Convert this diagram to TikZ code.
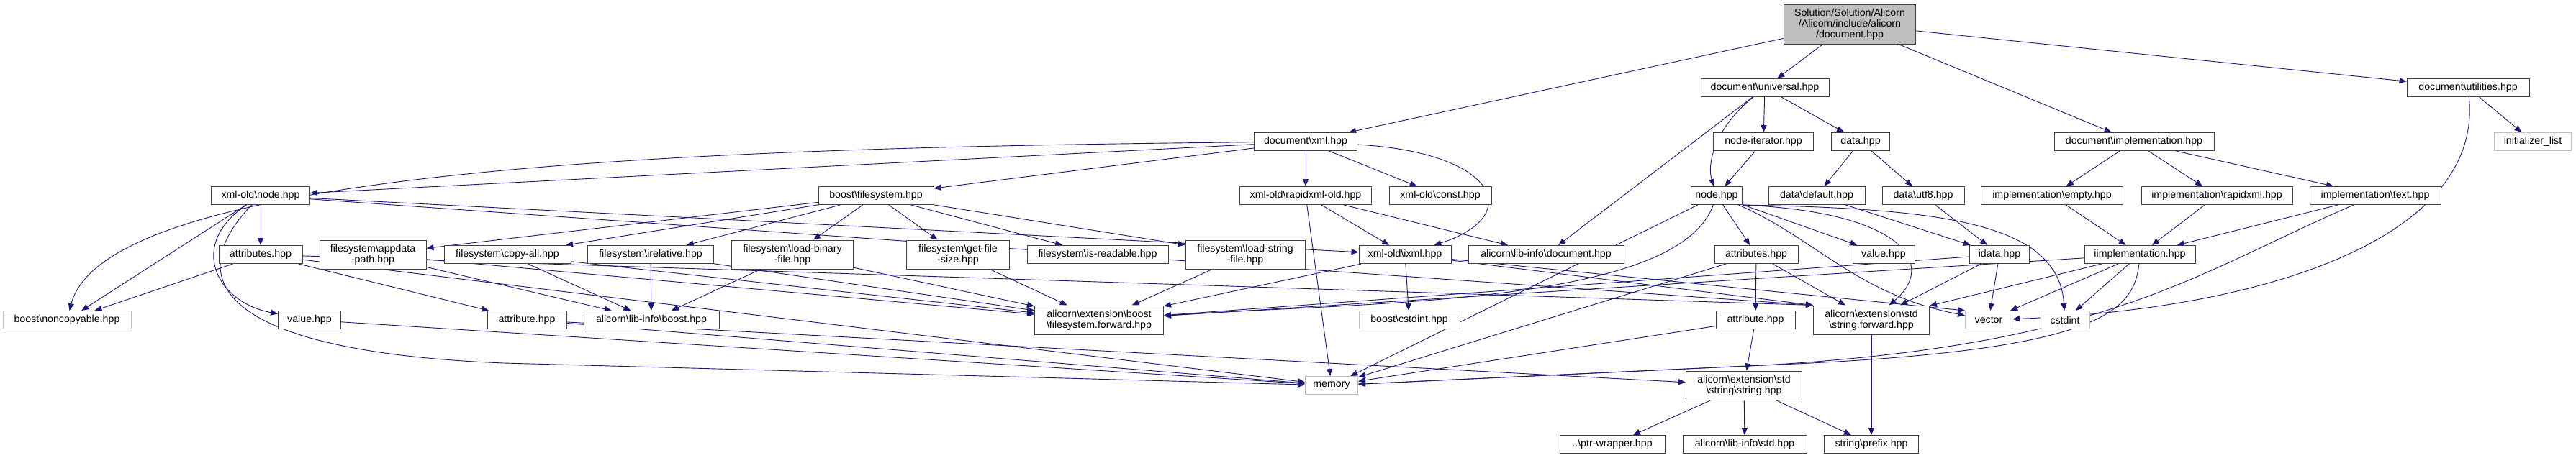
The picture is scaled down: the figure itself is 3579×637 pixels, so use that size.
\documentclass[tikz,border=0pt]{standalone}
\usepackage{fontspec}
\setmainfont{Liberation Sans}
\usetikzlibrary{arrows.meta}
\definecolor{edgeblue}{HTML}{191970}
\newcommand\bsl{\textbackslash}
\newcommand\hdrfont{\fontsize{14.2}{15}\selectfont}
\pgfdeclarelayer{edges}
\pgfsetlayers{edges,main}

\begin{document}
\begin{tikzpicture}[x=1pt,y=-1pt,
    hdr/.style={draw=black!75,fill=white,line width=1pt,inner sep=0pt,minimum height=25pt,font=\hdrfont,align=center},
    sys/.style={hdr,draw=black!25},
    two/.style={minimum height=40pt},
    dep/.style={->,draw=edgeblue,color=edgeblue,line width=0.9pt},
    >={Triangle[length=10pt,width=8pt]}]
  \useasboundingbox (0,0) rectangle (3579,637);
  \node[hdr,fill=black!25,minimum width=183pt,minimum height=55pt] (root) at (2570,33.5) {Solution/Solution/Alicorn\\/Alicorn/include/alicorn\\/document.hpp};

  \node[hdr,minimum width=178pt] (uni) at (2452,122) {document\bsl universal.hpp};
  \node[hdr,minimum width=170pt] (util) at (3429,122) {document\bsl utilities.hpp};

  \node[hdr,minimum width=143pt] (xml) at (1814,197) {document\bsl xml.hpp};
  \node[hdr,minimum width=139pt] (nodeit) at (2450,197) {node-iterator.hpp};
  \node[hdr,minimum width=81pt] (data) at (2585,197) {data.hpp};
  \node[hdr,minimum width=222pt] (impl) at (2965,197) {document\bsl implementation.hpp};
  \node[sys,minimum width=107pt] (initl) at (3519,197) {initializer\_list};

  \node[hdr,minimum width=137pt] (xonode) at (362,272) {xml-old\bsl node.hpp};
  \node[hdr,minimum width=160pt] (bfs) at (1217,272) {boost\bsl filesystem.hpp};
  \node[hdr,minimum width=183pt] (rxold) at (1814,272) {xml-old\bsl rapidxml-old.hpp};
  \node[hdr,minimum width=142pt] (xconst) at (2001,272) {xml-old\bsl const.hpp};
  \node[hdr,minimum width=71pt] (node) at (2385,272) {node.hpp};
  \node[hdr,minimum width=134pt] (ddef) at (2524,272) {data\bsl default.hpp};
  \node[hdr,minimum width=114pt] (dutf) at (2672,272) {data\bsl utf8.hpp};
  \node[hdr,minimum width=197pt] (iempty) at (2851,272) {implementation\bsl empty.hpp};
  \node[hdr,minimum width=210pt] (irapid) at (3080,272) {implementation\bsl rapidxml.hpp};
  \node[hdr,minimum width=182pt] (itext) at (3300,272) {implementation\bsl text.hpp};

  \node[hdr,minimum width=116pt] (attrsL) at (362,354) {attributes.hpp};
  \node[hdr,two,minimum width=148pt] (appdata) at (518,354) {filesystem\bsl appdata\\-path.hpp};
  \node[hdr,minimum width=176pt] (copyall) at (705,354) {filesystem\bsl copy-all.hpp};
  \node[hdr,minimum width=175pt] (relative) at (904,354) {filesystem\bsl irelative.hpp};
  \node[hdr,two,minimum width=169pt] (loadbin) at (1101,354) {filesystem\bsl load-binary\\-file.hpp};
  \node[hdr,two,minimum width=143pt] (getsize) at (1331,354) {filesystem\bsl get-file\\-size.hpp};
  \node[hdr,minimum width=196pt] (isread) at (1525,354) {filesystem\bsl is-readable.hpp};
  \node[hdr,two,minimum width=166pt] (loadstr) at (1730,354) {filesystem\bsl load-string\\-file.hpp};
  \node[hdr,minimum width=128pt] (ixml) at (1952,354) {xml-old\bsl ixml.hpp};
  \node[hdr,minimum width=216pt] (lidoc) at (2148,354) {alicorn\bsl lib-info\bsl document.hpp};
  \node[hdr,minimum width=116pt] (attrsR) at (2440,354) {attributes.hpp};
  \node[hdr,minimum width=86pt] (valueR) at (2617,354) {value.hpp};
  \node[hdr,minimum width=83pt] (idata) at (2778,354) {idata.hpp};
  \node[hdr,minimum width=154pt] (iimpl) at (2973,354) {iimplementation.hpp};

  \node[sys,minimum width=178pt] (noncopy) at (93,445) {boost\bsl noncopyable.hpp};
  \node[hdr,minimum width=87pt] (valueL) at (430,445) {value.hpp};
  \node[hdr,minimum width=110pt] (attrL) at (732,445) {attribute.hpp};
  \node[hdr,minimum width=188pt] (liboost) at (905,445) {alicorn\bsl lib-info\bsl boost.hpp};
  \node[hdr,two,minimum width=179pt] (fsfwd) at (1527,445) {alicorn\bsl extension\bsl boost\\\bsl filesystem.forward.hpp};
  \node[sys,minimum width=140pt] (bcstdint) at (1958,445) {boost\bsl cstdint.hpp};
  \node[hdr,minimum width=110pt] (attrR) at (2439,445) {attribute.hpp};
  \node[hdr,two,minimum width=161pt] (strfwd) at (2600,445) {alicorn\bsl extension\bsl std\\\bsl string.forward.hpp};
  \node[sys,minimum width=65pt] (vector) at (2763,445) {vector};
  \node[sys,minimum width=68pt] (cstdint) at (2869,445) {cstdint};

  \node[sys,minimum width=73pt] (memory) at (1850,536) {memory};
  \node[hdr,two,minimum width=161pt] (strstr) at (2423,536) {alicorn\bsl extension\bsl std\\\bsl string\bsl string.hpp};

  \node[hdr,minimum width=146pt] (ptrw) at (2240,618) {..\bsl ptr-wrapper.hpp};
  \node[hdr,minimum width=172pt] (listd) at (2424,618) {alicorn\bsl lib-info\bsl std.hpp};
  \node[hdr,minimum width=131pt] (prefix) at (2600,618) {string\bsl prefix.hpp};

  \begin{pgfonlayer}{edges}
  \draw[dep] (root) -- (xml);
  \draw[dep] (root) -- (uni);
  \draw[dep] (root) -- (impl);
  \draw[dep] (root) -- (util);
  \draw[dep] (uni) -- (nodeit);
  \draw[dep] (uni) -- (data);
  \draw[dep] (uni) .. controls (2380,180) and (2372,230) .. (node);
  \draw[dep] (uni) -- (lidoc);
  \draw[dep] (util) -- (initl);
  \draw[dep] (util) .. controls (3450,330) and (3150,430) .. (vector);
  \draw[dep] (xml) -- (xonode);
  \draw[dep] (xml) -- (bfs);
  \draw[dep] (xml) -- (rxold);
  \draw[dep] (xml) -- (xconst);
  \draw[dep] (xml) .. controls (2080,212) and (2120,300) .. (ixml);
  \draw[dep] (xml) .. controls (1000,205) and (150,230) .. (noncopy);
  \draw[dep] (impl) -- (iempty);
  \draw[dep] (impl) -- (irapid);
  \draw[dep] (impl) -- (itext);
  \draw[dep] (nodeit) -- (node);
  \draw[dep] (data) -- (ddef);
  \draw[dep] (data) -- (dutf);

  \draw[dep] (xonode) -- (attrsL);
  \draw[dep] (xonode) .. controls (260,340) and (300,420) .. (valueL);
  \draw[dep] (xonode) -- (noncopy);
  \draw[dep] (xonode) .. controls (240,400) and (330,490) .. (700,505) -- (memory);
  \draw[dep] (xonode) -- (ixml);
  \draw[dep] (xonode) -- (strfwd.north west);
  \draw[dep] (bfs) -- (appdata);
  \draw[dep] (bfs) -- (copyall);
  \draw[dep] (bfs) -- (relative);
  \draw[dep] (bfs) -- (loadbin);
  \draw[dep] (bfs) -- (getsize);
  \draw[dep] (bfs) -- (isread);
  \draw[dep] (bfs) -- (loadstr);
  \draw[dep] (rxold) -- (ixml);
  \draw[dep] (rxold) -- (lidoc);
  \draw[dep] (rxold) -- (memory);
  \draw[dep] (node) -- (attrsR);
  \draw[dep] (node) -- (valueR);
  \draw[dep] (node) .. controls (2520,330) and (2580,410) .. (vector);
  \draw[dep] (node.south east) .. controls (2700,290) and (2860,310) .. (cstdint);
  \draw[dep] (node.south east) .. controls (2650,295) and (2690,370) .. (strfwd);
  \draw[dep] (node) -- (memory);
  \draw[dep] (node) .. controls (2330,425) and (1900,420) .. (fsfwd);
  \draw[dep] (ddef) -- (idata);
  \draw[dep] (dutf) -- (idata);
  \draw[dep] (iempty) -- (iimpl);
  \draw[dep] (irapid) -- (iimpl);
  \draw[dep] (itext) -- (iimpl);
  \draw[dep] (itext) .. controls (3050,380) and (2930,480) .. (2450,508) -- (memory);

  \draw[dep] (attrsL) -- (noncopy);
  \draw[dep] (attrsL) -- (attrL);
  \draw[dep] (attrsL) -- (strfwd.north west);
  \draw[dep] (attrsL) -- (memory);
  \draw[dep] (appdata) -- (liboost);
  \draw[dep] (appdata) -- (fsfwd);
  \draw[dep] (copyall) -- (liboost);
  \draw[dep] (copyall) -- (fsfwd);
  \draw[dep] (relative) -- (liboost);
  \draw[dep] (relative) -- (fsfwd);
  \draw[dep] (loadbin) -- (liboost);
  \draw[dep] (loadbin) -- (fsfwd);
  \draw[dep] (getsize) -- (fsfwd);
  \draw[dep] (loadstr) -- (fsfwd);
  \draw[dep] (ixml) -- (fsfwd);
  \draw[dep] (ixml) -- (bcstdint);
  \draw[dep] (ixml) -- (strfwd.north west);
  \draw[dep] (ixml) -- (vector.north west);
  \draw[dep] (attrsR) -- (attrR);
  \draw[dep] (attrsR) -- (strfwd);
  \draw[dep] (attrsR) -- (memory);
  \draw[dep] (idata) -- (fsfwd);
  \draw[dep] (idata) -- (strfwd);
  \draw[dep] (idata) -- (vector);
  \draw[dep] (iimpl) -- (fsfwd);
  \draw[dep] (iimpl) -- (strfwd);
  \draw[dep] (iimpl) -- (vector);
  \draw[dep] (iimpl) -- (cstdint);
  \draw[dep] (iimpl) .. controls (2965,440) and (2900,490) .. (2450,508) -- (memory);

  \draw[dep] (valueL) -- (memory);
  \draw[dep] (attrL) -- (memory);
  \draw[dep] (attrL) -- (strstr);
  \draw[dep] (attrR) -- (strstr);
  \draw[dep] (attrR) -- (memory);
  \draw[dep] (strfwd) -- (prefix);
  \draw[dep] (strstr) -- (ptrw);
  \draw[dep] (strstr) -- (listd);
  \draw[dep] (strstr) -- (prefix);
  \end{pgfonlayer}
\end{tikzpicture}
\end{document}
